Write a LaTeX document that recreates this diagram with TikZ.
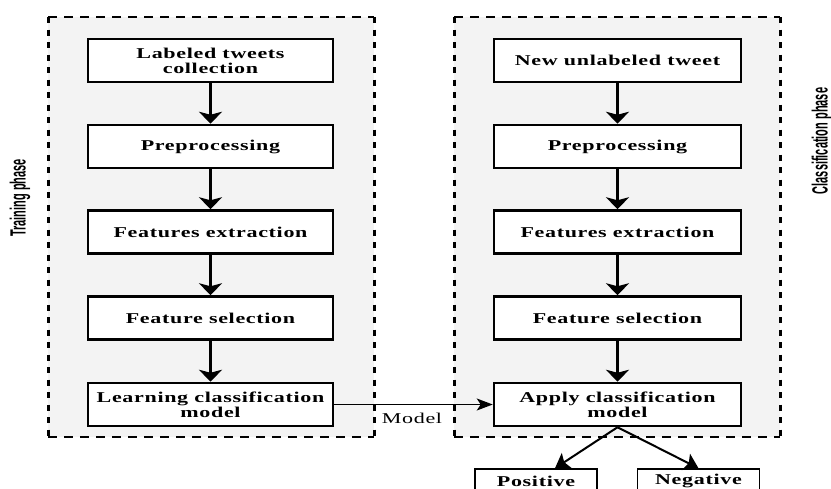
\documentclass[tikz,border=0pt]{standalone}
\usepackage{fontspec}
\usepackage{graphicx}
\setmainfont{Liberation Serif}
\newfontfamily\boxfont[LetterSpace=3]{Liberation Serif}
\newfontfamily\phasefont{Liberation Sans}
\newcommand\wtext[1]{\scalebox{1.47}[1]{#1}}
\newcommand\ntext[1]{\scalebox{0.5}[1]{#1}}
\usetikzlibrary{arrows.meta,calc}
\definecolor{panel}{HTML}{F3F3F3}
\begin{document}
\begin{tikzpicture}[x=1pt,y=-1pt,
  stepbox/.style={draw, line width=2.5pt, fill=white, minimum width=245pt, minimum height=43pt,
    inner sep=0pt, align=center, font=\boxfont\bfseries\fontsize{15}{15}\selectfont},
  outbox/.style={draw, line width=1.5pt, fill=white, minimum width=122pt, minimum height=24pt,
    inner sep=0pt, align=center, font=\boxfont\bfseries\fontsize{15}{15}\selectfont},
  flow/.style={line width=2.5pt, -{Stealth[length=12pt,width=23pt,inset=3pt]}},
  modelarrow/.style={line width=1.5pt, -{Stealth[length=16pt,width=12pt,inset=4pt]}},
  outarrow/.style={line width=2pt, -{Stealth[length=14pt,width=18pt,inset=3pt]}},
  sidedash/.style={line width=3pt, dash pattern=on 6pt off 6.5pt},
  topdash/.style={line width=2pt, dash pattern=on 9pt off 7pt},
  phase/.style={rotate=90, inner sep=0pt, font=\phasefont\bfseries\fontsize{22}{22}\selectfont},
  lbl/.style={inner sep=0pt, font=\boxfont\fontsize{15}{15}\selectfont}]
\useasboundingbox (0,0) rectangle (831,488);
\clip (0,0) rectangle (831,488);
\fill[white] (0,0) rectangle (831,488);
% panels
\fill[panel] (48,17) rectangle (374,437);
\fill[panel] (454,17) rectangle (780,437);
\draw[topdash] (48,17) -- (374,17);
\draw[topdash] (48,437) -- (374,437);
\draw[sidedash] (48,17) -- (48,437);
\draw[sidedash] (374,17) -- (374,437);
\draw[topdash] (454,17) -- (780,17);
\draw[topdash] (454,437) -- (780,437);
\draw[sidedash] (454,17) -- (454,437);
\draw[sidedash] (780,17) -- (780,437);
% phase labels
\node[phase] (tp) at (20,198) {\ntext{Training phase}};
\node[phase] (cp) at (822,141) {\ntext{Classification phase}};
% left column
\node[stepbox] (l1) at (210.5,60.5) {\wtext{Labeled tweets}\\\wtext{collection}};
\node[stepbox] (l2) at (210.5,146.5) {\wtext{Preprocessing}};
\node[stepbox] (l3) at (210.5,232) {\wtext{Features extraction}};
\node[stepbox] (l4) at (210.5,318) {\wtext{Feature selection}};
\node[stepbox] (l5) at (210.5,404.5) {\wtext{Learning classification}\\\wtext{model}};
% right column
\node[stepbox, minimum width=247pt] (r1) at (617.5,60.5) {\wtext{New unlabeled tweet}};
\node[stepbox, minimum width=247pt] (r2) at (617.5,146.5) {\wtext{Preprocessing}};
\node[stepbox, minimum width=247pt] (r3) at (617.5,232) {\wtext{Features extraction}};
\node[stepbox, minimum width=247pt] (r4) at (617.5,318) {\wtext{Feature selection}};
\node[stepbox, minimum width=247pt] (r5) at (617.5,404.5) {\wtext{Apply classification}\\\wtext{model}};
% outputs
\node[outbox] (pos) at (536,481) {\wtext{Positive}};
\node[outbox] (neg) at (698.5,481) {\wtext{Negative}};
% arrows
\draw[flow] (l1) -- (l2);
\draw[flow] (l2) -- (l3);
\draw[flow] (l3) -- (l4);
\draw[flow] (l4) -- (l5);
\draw[flow] (r1) -- (r2);
\draw[flow] (r2) -- (r3);
\draw[flow] (r3) -- (r4);
\draw[flow] (r4) -- (r5);
\draw[modelarrow] (l5.east) -- (r5.west);
\node[lbl] (ml) at (412,418) {\wtext{Model}};
\draw[outarrow] (r5.south) -- ($(pos.north)+(19,0)$);
\draw[outarrow] (r5.south) -- (neg.north);
\end{tikzpicture}
\end{document}
